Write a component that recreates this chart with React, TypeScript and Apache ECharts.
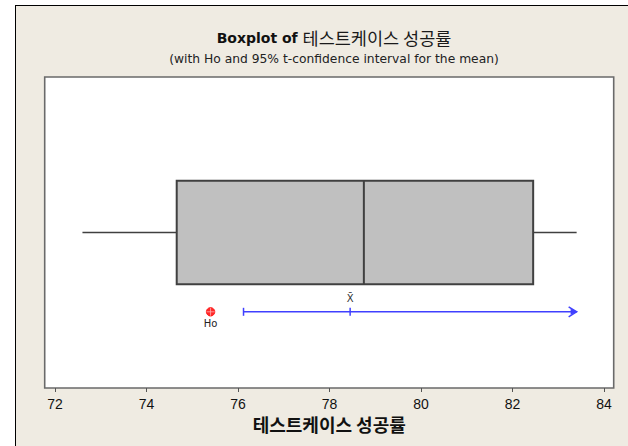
import { useEffect, useRef } from 'react';
import * as echarts from 'echarts';

// Variable under study
const varName = '테스트케이스 성공률';
// Five-number summary: min, Q1, median, Q3, max
const boxStats = [72.6, 74.66, 78.75, 82.45, 83.4];
// Sample mean and lower 95% t-confidence bound (one-sided, open to the right)
const sampleMean = 78.45;
const ciLower = 76.12;
// Hypothesized mean Ho
const hypothesizedMean = 75.4;
// Tick labels on the value axis
const tickValues = [72, 74, 76, 78, 80, 82, 84];

const BOX_TOP = 2 / 3;
const BOX_BOTTOM = 1 / 3;
const BOX_MID = 0.5;
const CI_LEVEL = 0.245;

const BLUE = '#4040ff';
const DARK = '#404040';
const FONT = "'DejaVu Sans', 'Noto Sans CJK KR', sans-serif";
const KFONT = "'Noto Sans CJK KR', sans-serif";

export default function App() {
  const ref = useRef<HTMLDivElement>(null);

  useEffect(() => {
    if (!ref.current) return;
    const chart = echarts.init(ref.current, undefined, { renderer: 'svg' });

    const option: any = {
      animation: false,
      backgroundColor: '#efebe2',
      title: {
        left: 329,
        top: 24,
        textAlign: 'center',
        text: `{a|Boxplot of }{k|${varName}}`,
        subtext: '(with Ho and 95% t-confidence interval for the mean)',
        itemGap: 6,
        textStyle: {
          rich: {
            a: { fontFamily: FONT, fontWeight: 'bold', fontSize: 14, color: '#111' },
            k: { fontFamily: KFONT, fontWeight: 'normal', fontSize: 17.5, color: '#1a1a1a' },
          },
        },
        subtextStyle: { fontFamily: FONT, fontSize: 12.3, color: '#222' },
      },
      graphic: [
        { type: 'rect', shape: { x: 0, y: 0, width: 15, height: 446 }, style: { fill: '#ffffff' }, silent: true },
        { type: 'rect', shape: { x: 0, y: 0, width: 628, height: 5 }, style: { fill: '#ffffff' }, silent: true },
        { type: 'line', shape: { x1: 15.5, y1: 5, x2: 15.5, y2: 446 }, style: { stroke: '#000', lineWidth: 1 }, silent: true },
        { type: 'line', shape: { x1: 15, y1: 5.5, x2: 628, y2: 5.5 }, style: { stroke: '#000', lineWidth: 1 }, silent: true },
      ],
      grid: {
        left: 44.7,
        right: 14.3,
        top: 77,
        bottom: 58,
        show: true,
        backgroundColor: '#ffffff',
        borderColor: '#6a6a6a',
        borderWidth: 1.6,
      },
      xAxis: {
        type: 'value',
        min: 71.775,
        max: 84.21,
        splitLine: { show: false },
        axisLine: { show: false },
        axisTick: { show: true, customValues: tickValues, length: 4, lineStyle: { color: '#555' } },
        axisLabel: {
          customValues: tickValues,
          margin: 9,
          fontFamily: "'Liberation Sans Narrow', 'Liberation Sans', sans-serif",
          fontSize: 14,
          color: '#111',
        },
        name: varName,
        nameLocation: 'middle',
        nameMoveOverlap: false,
        nameGap: 27,
        nameTextStyle: { fontFamily: KFONT, fontWeight: 'bold', fontSize: 18, color: '#111' },
      },
      yAxis: { type: 'value', min: 0, max: 1, show: false },
      series: [
        {
          type: 'custom',
          name: 'box',
          data: [boxStats],
          renderItem: (_p: any, api: any) => {
            const xs = [0, 1, 2, 3, 4].map((i) => api.coord([api.value(i), BOX_MID])[0]);
            const yMid = api.coord([0, BOX_MID])[1];
            const yTop = api.coord([0, BOX_TOP])[1];
            const yBot = api.coord([0, BOX_BOTTOM])[1];
            const ls = { stroke: DARK, lineWidth: 1.5 };
            return {
              type: 'group',
              children: [
                { type: 'line', shape: { x1: xs[0], y1: yMid, x2: xs[1], y2: yMid }, style: ls },
                { type: 'line', shape: { x1: xs[3], y1: yMid, x2: xs[4], y2: yMid }, style: ls },
                {
                  type: 'rect',
                  shape: { x: xs[1], y: yTop, width: xs[3] - xs[1], height: yBot - yTop },
                  style: { fill: '#c0c0c0', stroke: DARK, lineWidth: 2 },
                },
                { type: 'line', shape: { x1: xs[2], y1: yTop, x2: xs[2], y2: yBot }, style: { stroke: DARK, lineWidth: 2 } },
              ],
            };
          },
        },
        {
          type: 'custom',
          name: 'ci',
          data: [[ciLower, sampleMean, boxStats[4]]],
          renderItem: (_p: any, api: any) => {
            const [xL, y] = api.coord([api.value(0), CI_LEVEL]);
            const xM = api.coord([api.value(1), CI_LEVEL])[0];
            const xE = api.coord([api.value(2), CI_LEVEL])[0];
            const ls = { stroke: BLUE, lineWidth: 1.5 };
            return {
              type: 'group',
              children: [
                { type: 'line', shape: { x1: xL, y1: y, x2: xE, y2: y }, style: ls },
                { type: 'line', shape: { x1: xL, y1: y - 4, x2: xL, y2: y + 4 }, style: ls },
                { type: 'line', shape: { x1: xM, y1: y - 4, x2: xM, y2: y + 4 }, style: ls },
                { type: 'polyline', shape: { points: [[xE - 8, y - 5], [xE, y], [xE - 8, y + 5]] }, style: { ...ls, fill: null } },
                { type: 'polygon', shape: { points: [[xE - 6, y - 3], [xE + 1, y], [xE - 6, y + 3]] }, style: { fill: BLUE } },
                {
                  type: 'text',
                  style: {
                    text: 'X\u0304',
                    x: xM,
                    y: y - 13,
                    align: 'center',
                    verticalAlign: 'middle',
                    fontFamily: FONT,
                    fontSize: 10,
                    fill: '#333',
                  },
                },
              ],
            };
          },
        },
        {
          type: 'custom',
          name: 'Ho',
          data: [[hypothesizedMean]],
          renderItem: (_p: any, api: any) => {
            const [x, y] = api.coord([api.value(0), CI_LEVEL]);
            return {
              type: 'group',
              children: [
                { type: 'circle', shape: { cx: x, cy: y, r: 4.2 }, style: { fill: '#ff2a2a', stroke: '#ff0000', lineWidth: 0.8 } },
                { type: 'line', shape: { x1: x - 4, y1: y, x2: x + 4, y2: y }, style: { stroke: '#ffb0b0', lineWidth: 0.8 } },
                { type: 'line', shape: { x1: x, y1: y - 4, x2: x, y2: y + 4 }, style: { stroke: '#ffb0b0', lineWidth: 0.8 } },
                {
                  type: 'text',
                  style: {
                    text: 'Ho',
                    x: x,
                    y: y + 12,
                    align: 'center',
                    verticalAlign: 'middle',
                    fontFamily: FONT,
                    fontSize: 10,
                    fill: '#222',
                  },
                },
              ],
            };
          },
        },
      ],
    };

    chart.setOption(option);
    return () => chart.dispose();
  }, []);

  return (
    <div
      ref={ref}
      style={{ position: 'fixed', left: 0, top: 0, width: 628, height: 446 }}
    />
  );
}
